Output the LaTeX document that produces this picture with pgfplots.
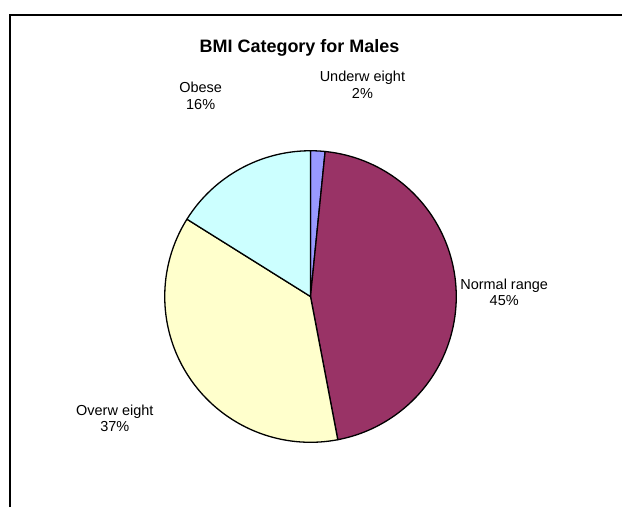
\documentclass[border=0pt]{standalone}
\usepackage{fontspec}
\setmainfont{Liberation Sans}
\usepackage{pgfplots}
\usepackage{pgfplotstable}
\pgfplotsset{compat=1.18}
\definecolor{cUnder}{HTML}{9999FF}
\definecolor{cNormal}{HTML}{993366}
\definecolor{cOver}{HTML}{FFFFCC}
\definecolor{cObese}{HTML}{CCFFFF}
\pgfplotstableread{
label value
Underweight 1.6
Normal 45.4
Overweight 36.9
Obese 16.1
}\bmi
\begin{document}
\begin{tikzpicture}
\pgfplotstablegetelem{0}{value}\of\bmi \pgfmathsetmacro\vA{\pgfplotsretval}
\pgfplotstablegetelem{1}{value}\of\bmi \pgfmathsetmacro\vB{\pgfplotsretval}
\pgfplotstablegetelem{2}{value}\of\bmi \pgfmathsetmacro\vC{\pgfplotsretval}
\pgfplotstablegetelem{3}{value}\of\bmi \pgfmathsetmacro\vD{\pgfplotsretval}
\pgfmathsetmacro\aA{90}
\pgfmathsetmacro\aB{\aA-3.6*\vA}
\pgfmathsetmacro\aC{\aB-3.6*\vB}
\pgfmathsetmacro\aD{\aC-3.6*\vC}
\pgfmathsetmacro\aE{\aD-3.6*\vD}
\begin{axis}[
  width=623pt, height=508pt, scale only axis,
  xmin=0, xmax=623, ymin=0, ymax=508,
  hide axis, clip=false,
  every axis plot/.append style={draw=black, line width=1.3pt, line join=round},
]
\path (axis cs:0,0) rectangle (axis cs:623,508);
\draw[line width=2pt, black] (axis cs:10,0) -- (axis cs:10,493) -- (axis cs:623,493);
\addplot[fill=cUnder, domain=\aB:\aA, samples=10] ({311+146*cos(x)},{211+146*sin(x)}) -- (axis cs:311,211) -- cycle;
\addplot[fill=cNormal, domain=\aC:\aB, samples=120] ({311+146*cos(x)},{211+146*sin(x)}) -- (axis cs:311,211) -- cycle;
\addplot[fill=cOver, domain=\aD:\aC, samples=100] ({311+146*cos(x)},{211+146*sin(x)}) -- (axis cs:311,211) -- cycle;
\addplot[fill=cObese, domain=\aE:\aD, samples=50] ({311+146*cos(x)},{211+146*sin(x)}) -- (axis cs:311,211) -- cycle;
\node[font=\fontsize{18}{21}\selectfont\bfseries] at (axis cs:300,460) {BMI Category for Males};
\begin{scope}[every node/.style={font=\fontsize{14.5}{16.5}\selectfont, align=center}]
\node at (axis cs:363,423) {Underw eight\\2\%};
\node at (axis cs:201,412) {Obese\\16\%};
\node at (axis cs:505,215) {Normal range\\45\%};
\node at (axis cs:115,89) {Overw eight\\37\%};
\end{scope}
\end{axis}
\end{tikzpicture}
\end{document}
